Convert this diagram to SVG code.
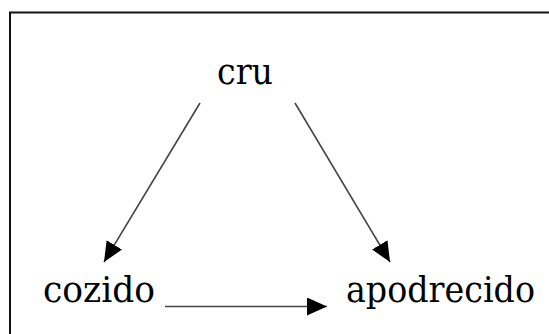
<svg xmlns="http://www.w3.org/2000/svg" width="549" height="334" viewBox="0 0 549 334">
<style>
.lbl{font-family:'DejaVu Serif',serif;font-size:35px;fill:#000}
.edge{stroke:#444;stroke-width:1.6;fill:none}
</style>
<defs>
<marker id="ah" markerWidth="20" markerHeight="18" refX="20" refY="9" orient="auto" markerUnits="userSpaceOnUse">
<path d="M0,0 L20,9 L0,18 Z" fill="#000"/>
</marker>
</defs>
<rect x="0" y="0" width="549" height="334" fill="#fff"/>
<rect x="10" y="12.5" width="560" height="340" fill="none" stroke="#111" stroke-width="2"/>
<g id="connectors">
<line class="edge" x1="200" y1="103" x2="104" y2="262" marker-end="url(#ah)"/>
<line class="edge" x1="295" y1="103" x2="390" y2="262" marker-end="url(#ah)"/>
<line class="edge" x1="165" y1="306.5" x2="327" y2="306.5" marker-end="url(#ah)"/>
</g>
<g id="cru"><text class="lbl" x="217" y="84" textLength="56" lengthAdjust="spacingAndGlyphs">cru</text></g>
<g id="cozido"><text class="lbl" x="43" y="301.7" textLength="112" lengthAdjust="spacingAndGlyphs">cozido</text></g>
<g id="apodrecido"><text class="lbl" x="346" y="301.7" textLength="189" lengthAdjust="spacingAndGlyphs">apodrecido</text></g>
</svg>
